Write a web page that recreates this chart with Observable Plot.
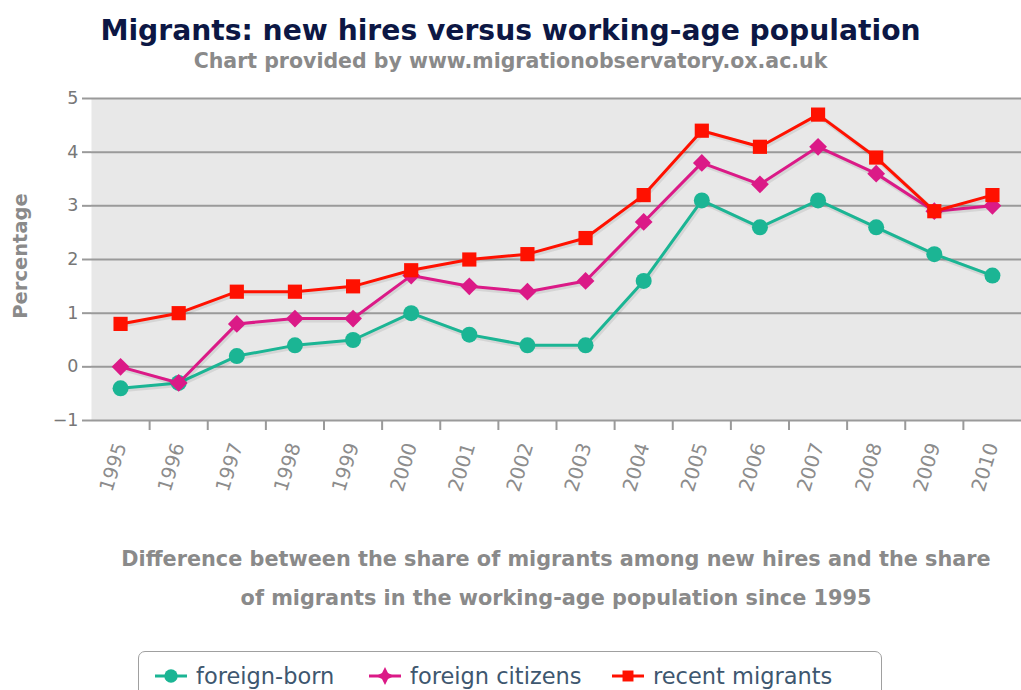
<!DOCTYPE html>
<html>
<head>
<meta charset="utf-8">
<script src="https://cdn.jsdelivr.net/npm/d3@7"></script>
<script src="https://cdn.jsdelivr.net/npm/@observablehq/plot@0.6"></script>
<style>
  html, body { margin: 0; padding: 0; background: #fff; }
  body { width: 1021px; height: 690px; position: relative; overflow: hidden; font-family: "DejaVu Sans", sans-serif; }
  .abs { position: absolute; }
  #title { left: 0; width: 1021px; top: 14px; text-align: center; font-size: 28.2px; font-weight: bold; color: #0c1744; }
  #subtitle { left: 0; width: 1021px; top: 49px; text-align: center; font-size: 20.5px; font-weight: bold; color: #8a8a8a; }
  #chart { left: 0; top: 80px; }
  #ylabel { left: 20px; top: 256px; transform: translate(-50%, -50%) rotate(-90deg); font-size: 19.5px; font-weight: bold; color: #8a8a8a; white-space: nowrap; }
  #caption { left: 91px; width: 930px; top: 540px; text-align: center; font-size: 20.8px; font-weight: bold; color: #8a8a8a; line-height: 39px; }
  #legend { left: 138px; top: 651px; width: 742px; height: 60px; border: 1.5px solid #a0a0a0; border-radius: 7px; }
  .item { position: absolute; top: 11px; display: flex; align-items: center; font-size: 22.5px; color: #3e576f; white-space: nowrap; }
  .item svg { margin-right: 9px; }
</style>
</head>
<body>
<div id="title" class="abs">Migrants: new hires versus working-age population</div>
<div id="subtitle" class="abs">Chart provided by www.migrationobservatory.ox.ac.uk</div>
<div id="chart" class="abs"></div>
<div id="ylabel" class="abs">Percentage</div>
<div id="caption" class="abs">Difference between the share of migrants among new hires and the share<br>of migrants in the working-age population since 1995</div>
<div id="legend" class="abs"></div>
<script>
const years = [1995, 1996, 1997, 1998, 1999, 2000, 2001, 2002, 2003, 2004, 2005, 2006, 2007, 2008, 2009, 2010];
const foreignBorn     = [-0.4, -0.3, 0.2, 0.4, 0.5, 1.0, 0.6, 0.4, 0.4, 1.6, 3.1, 2.6, 3.1, 2.6, 2.1, 1.7];
const foreignCitizens = [0.0, -0.3, 0.8, 0.9, 0.9, 1.7, 1.5, 1.4, 1.6, 2.7, 3.8, 3.4, 4.1, 3.6, 2.9, 3.0];
const recentMigrants  = [0.8, 1.0, 1.4, 1.4, 1.5, 1.8, 2.0, 2.1, 2.4, 3.2, 4.4, 4.1, 4.7, 3.9, 2.9, 3.2];
const seriesNames = ["foreign-born", "foreign citizens", "recent migrants"];
const yTicks = [-1, 0, 1, 2, 3, 4, 5];

const seriesValues = [foreignBorn, foreignCitizens, recentMigrants];
const colors = ["#1bb594", "#db1a87", "#ff1100"];
const symbols = ["circle", "diamond2", "square"];

const data = seriesNames.flatMap((s, i) =>
  years.map((y, j) => ({series: s, year: y, value: seriesValues[i][j]})));
const boundaries = years.slice(0, -1).map(y => y + 0.5);

const seriesMarks = seriesNames.flatMap((s, i) => {
  const d = data.filter(e => e.series === s);
  return [
    Plot.line(d, {x: "year", y: "value", stroke: "#000", strokeOpacity: 0.08, strokeWidth: 5, dx: 1, dy: 1.5}),
    Plot.line(d, {x: "year", y: "value", stroke: "series", strokeWidth: 3}),
    Plot.dot(d, {x: "year", y: "value", fill: "series", symbol: "series", r: 8, stroke: null})
  ];
});

const chart = Plot.plot({
  width: 1021,
  height: 440,
  marginLeft: 91,
  marginRight: 0,
  marginTop: 18,
  marginBottom: 100,
  style: {fontFamily: "DejaVu Sans, sans-serif", background: "transparent"},
  x: {domain: [years[0] - 0.5, years[years.length - 1] + 0.5]},
  y: {domain: [yTicks[0], yTicks[yTicks.length - 1]]},
  color: {domain: seriesNames, range: colors},
  symbol: {domain: seriesNames, range: symbols},
  marks: [
    Plot.frame({fill: "#e8e8e8", stroke: null}),
    Plot.gridY(yTicks, {stroke: "#9a9a9a", strokeOpacity: 1, strokeWidth: 2}),
    Plot.axisY(yTicks, {tickSize: 9, tickPadding: 4, stroke: "#9a9a9a", strokeWidth: 2, fill: "#777", fontSize: 17.5, label: null, tickFormat: d => d < 0 ? "\u2212" + Math.abs(d) : String(d)}),
    Plot.axisX(boundaries, {tickSize: 10, tickFormat: () => "", stroke: "#9a9a9a", strokeWidth: 2, label: null}),
    Plot.axisX(years, {tickSize: 0, tickPadding: 23, tickRotate: -73, tickFormat: d => String(d), fill: "#8c8c8c", fontSize: 19.5, label: null}),
    ...seriesMarks
  ]
});
document.getElementById("chart").appendChild(chart);

// Legend
const legend = document.getElementById("legend");
const lefts = [16, 230, 473];
const ns = "http://www.w3.org/2000/svg";
const glyphs = [
  () => d3.symbol(d3.symbolCircle, 140)(),
  () => "M0,-9 L3,-3 L9,0 L3,3 L0,9 L-3,3 L-9,0 L-3,-3 Z",
  () => d3.symbol(d3.symbolSquare, 120)()
];
seriesNames.forEach((s, i) => {
  const item = document.createElement("div");
  item.className = "item";
  item.style.left = lefts[i] + "px";
  const svg = document.createElementNS(ns, "svg");
  svg.setAttribute("width", 32); svg.setAttribute("height", 22);
  const ln = document.createElementNS(ns, "line");
  ln.setAttribute("x1", 0); ln.setAttribute("x2", 32); ln.setAttribute("y1", 11); ln.setAttribute("y2", 11);
  ln.setAttribute("stroke", colors[i]); ln.setAttribute("stroke-width", 3);
  svg.appendChild(ln);
  const p = document.createElementNS(ns, "path");
  p.setAttribute("d", glyphs[i]());
  p.setAttribute("transform", "translate(16,11)");
  p.setAttribute("fill", colors[i]);
  svg.appendChild(p);
  item.appendChild(svg);
  const t = document.createElement("span");
  t.textContent = s;
  item.appendChild(t);
  legend.appendChild(item);
});
</script>
</body>
</html>
